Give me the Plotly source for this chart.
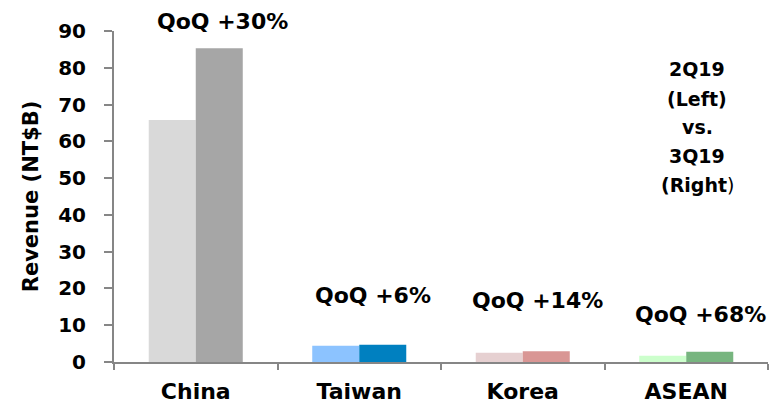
import plotly.graph_objects as go

categories = ["China", "Taiwan", "Korea", "ASEAN"]
rev_2q19 = [65.8, 4.4, 2.5, 1.7]
rev_3q19 = [85.3, 4.7, 2.9, 2.8]
qoq_labels = ["QoQ +30%", "QoQ +6%", "QoQ +14%", "QoQ +68%"]
yticks = [0, 10, 20, 30, 40, 50, 60, 70, 80, 90]

colors_2q = ["#D9D9D9", "#8CC3FF", "#E6D0D1", "#CCFFCC"]
colors_3q = ["#A6A6A6", "#0080C0", "#D99694", "#77B57F"]

FONT = "DejaVu Sans"
YMAX = 90

fig = go.Figure()
fig.add_trace(go.Bar(x=categories, y=rev_2q19, name="2Q19",
                     marker=dict(color=colors_2q, line=dict(width=0))))
fig.add_trace(go.Bar(x=categories, y=rev_3q19, name="3Q19",
                     marker=dict(color=colors_3q, line=dict(width=0))))

# QoQ labels (category index offset, y in data units -> converted to paper)
label_pos = [(0.162, 92.6), (0.083, 18.2), (0.092, 16.6), (0.086, 13.0)]
for i, (txt, (dx, yy)) in enumerate(zip(qoq_labels, label_pos)):
    fig.add_annotation(x=i + dx, y=yy / YMAX, xref="x", yref="paper", text="<b>%s</b>" % txt,
                       showarrow=False, xanchor="center", yanchor="middle",
                       font=dict(family=FONT, size=22, color="#000000"))

legend_lines = ["<b>2Q19</b>", "<b>(Left)</b>", "<b>vs.</b>", "<b>3Q19</b>", "<b>(Right</b>)"]
legend_y_px = [69, 99, 127, 156, 185]
for txt, ypx in zip(legend_lines, legend_y_px):
    fig.add_annotation(x=(697 - 114) / 654, y=(362 - ypx) / 331, xref="paper", yref="paper",
                       text=txt, showarrow=False, xanchor="center", yanchor="middle",
                       font=dict(family=FONT, size=19, color="#000000"))

fig.update_layout(
    width=776, height=409,
    margin=dict(l=114, r=8, t=31, b=47, autoexpand=False),
    paper_bgcolor="white", plot_bgcolor="white",
    barmode="group", bargap=0.425, bargroupgap=0,
    showlegend=False,
    font=dict(family=FONT, color="#000000"),
)
fig.update_xaxes(
    automargin=False,
    showline=True, linecolor="#868686", linewidth=2,
    ticks="outside", tickson="boundaries", ticklen=6, tickcolor="#868686", tickwidth=2,
    showgrid=False, zeroline=False,
    tickfont=dict(family=FONT, size=22, color="#000000", weight="bold"),
    ticklabelstandoff=9,
)
fig.update_yaxes(
    automargin=False,
    range=[0, YMAX], tickvals=yticks,
    showline=True, linecolor="#868686", linewidth=2,
    ticks="outside", ticklen=8, tickcolor="#868686", tickwidth=2,
    showgrid=False, zeroline=False,
    tickfont=dict(family=FONT, size=20, color="#000000", weight="bold"),
    ticklabelstandoff=14,
    title=dict(text="<b>Revenue (NT$B)</b>", font=dict(family=FONT, size=21, color="#000000"),
               standoff=14),
)

fig.write_html("out.html")
